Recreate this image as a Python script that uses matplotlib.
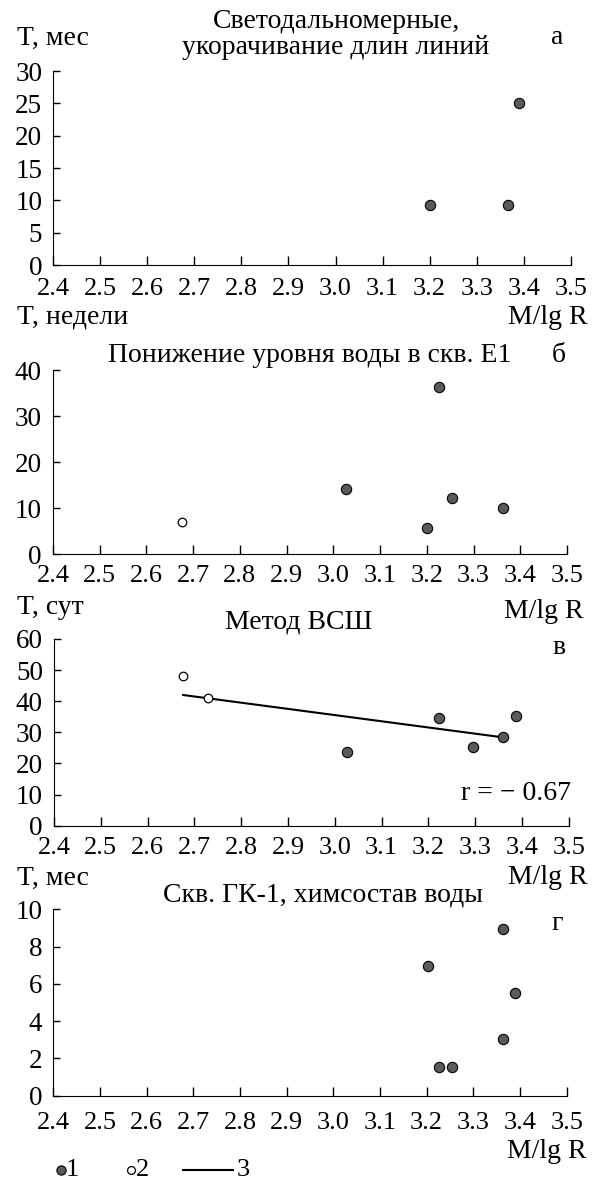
import numpy as np
import matplotlib.pyplot as plt

plt.rcParams['font.family'] = ['Liberation Serif', 'DejaVu Serif']
plt.rcParams['font.size'] = 20

# данные (x = M/lgR)
a_x = [3.20, 3.366, 3.39]
a_y = [9.3, 9.3, 25.1]

b_x1 = [3.028, 3.225, 3.20, 3.253, 3.364]
b_y1 = [14.2, 36.4, 5.6, 12.3, 10.1]
b_x2 = [2.677]
b_y2 = [7.1]

c_x1 = [3.026, 3.222, 3.295, 3.36, 3.387]
c_y1 = [23.6, 34.5, 25.3, 28.5, 35.2]
c_x2 = [2.676, 2.73]
c_y2 = [48.0, 41.0]
c_line_x = [2.676, 3.364]
c_line_y = [42.0, 28.3]

d_x = [3.202, 3.364, 3.39, 3.363, 3.227, 3.255]
d_y = [6.95, 8.95, 5.5, 3.05, 1.55, 1.55]

xticks = [2.4, 2.5, 2.6, 2.7, 2.8, 2.9, 3.0, 3.1, 3.2, 3.3, 3.4, 3.5]

W, H = 594, 1180
fig = plt.figure(figsize=(W / 100, H / 100), dpi=100)


def px(x, y):
    return x / W, 1 - y / H


def panel(left, right, top, bottom, ymax, ystep, xpad):
    ax = fig.add_axes([left / W, 1 - bottom / H, (right - left) / W, (bottom - top) / H])
    ax.set_xlim(2.4, 3.5)
    ax.set_ylim(0, ymax)
    ax.set_xticks(xticks)
    ax.set_xticklabels(['%.1f' % v for v in xticks])
    ax.set_yticks(np.arange(0, ymax + 0.1, ystep))
    for s in ['top', 'right']:
        ax.spines[s].set_visible(False)
    ax.tick_params(axis='x', direction='in', length=6.5, width=1, pad=xpad, labelsize=19)
    ax.tick_params(axis='y', direction='in', length=5, width=1, pad=8, labelsize=19.5)
    ax.set_facecolor('none')
    return ax


def filled(ax, x, y):
    ax.scatter(x, y, s=55, c='#5a5a5a', edgecolors='black', linewidths=0.8, zorder=3, clip_on=False)


def hollow(ax, x, y):
    ax.scatter(x, y, s=38, c='white', edgecolors='black', linewidths=0.9, zorder=3, clip_on=False)


# а
ax1 = panel(53.3, 570.7, 71, 265, 30, 5, 9)
filled(ax1, a_x, a_y)
fig.text(*px(336, 22), 'Светодальномерные,', ha='center', va='center')
fig.text(*px(336, 48), 'укорачивание длин линий', ha='center', va='center')
fig.text(*px(17, 38), 'T, мес', ha='left', va='center')
fig.text(*px(557, 38), 'а', ha='center', va='center')
fig.text(*px(588, 317), 'M/lg R', ha='right', va='center')

# б
ax2 = panel(53, 567, 370, 554.3, 40, 10, 8)
filled(ax2, b_x1, b_y1)
hollow(ax2, b_x2, b_y2)
fig.text(*px(17, 317), 'T, недели', ha='left', va='center')
fig.text(*px(310, 355), 'Понижение уровня воды в скв. Е1', ha='center', va='center')
fig.text(*px(559, 355), 'б', ha='center', va='center')
fig.text(*px(584, 612), 'M/lg R', ha='right', va='center')

# в
ax3 = panel(54, 568.8, 639, 825.7, 60, 10, 8)
ax3.plot(c_line_x, c_line_y, color='black', lw=1.5, zorder=2)
filled(ax3, c_x1, c_y1)
hollow(ax3, c_x2, c_y2)
fig.text(*px(17, 607), 'T, сут', ha='left', va='center')
fig.text(*px(299, 622), 'Метод ВСШ', ha='center', va='center')
fig.text(*px(559, 648), 'в', ha='center', va='center')
fig.text(*px(570.7, 793), 'r = − 0.67', ha='right', va='center')
fig.text(*px(588, 878), 'M/lg R', ha='right', va='center')

# г
ax4 = panel(53.3, 566.7, 909.3, 1095.7, 10, 2, 12)
filled(ax4, d_x, d_y)
fig.text(*px(17, 878), 'T, мес', ha='left', va='center')
fig.text(*px(323, 895), 'Скв. ГК-1, химсостав воды', ha='center', va='center')
fig.text(*px(557, 924), 'г', ha='center', va='center')
fig.text(*px(587, 1151), 'M/lg R', ha='right', va='center')

# легенда
lx = fig.add_axes([0, 0, 1, 1], facecolor='none')
lx.set_xlim(0, W)
lx.set_ylim(H, 0)
lx.axis('off')
lx.scatter([61], [1170], s=44, c='#5a5a5a', edgecolors='black', linewidths=0.8)
lx.text(66, 1170, '1', ha='left', va='center', fontsize=19)
lx.scatter([131], [1170], s=32, c='white', edgecolors='black', linewidths=0.9)
lx.text(136, 1170, '2', ha='left', va='center', fontsize=19)
lx.plot([183, 233], [1170, 1170], color='black', lw=1.5)
lx.text(237, 1170, '3', ha='left', va='center', fontsize=19)

fig.savefig('out.png', dpi=100)
